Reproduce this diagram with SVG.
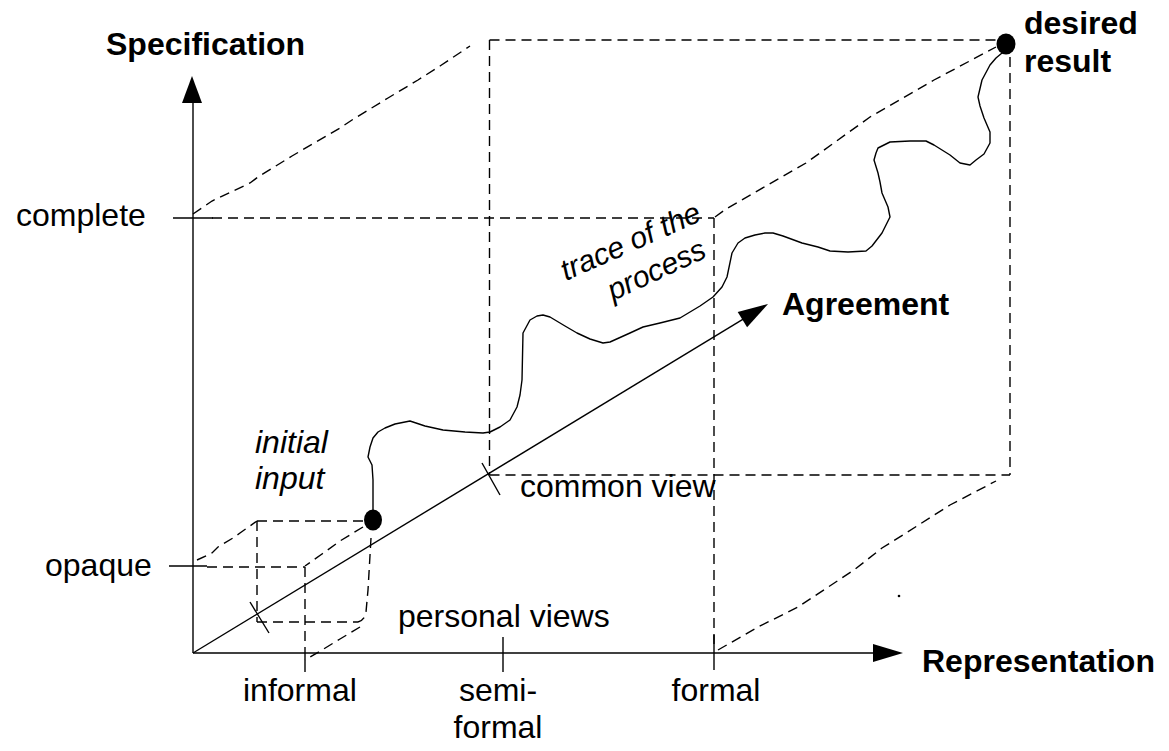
<svg xmlns="http://www.w3.org/2000/svg" width="1169" height="751" viewBox="0 0 1169 751">
<style>
.ax{stroke:#000;stroke-width:1.4;fill:none}
.d{stroke:#000;stroke-width:1.4;fill:none;stroke-dasharray:10 6}
.tr{stroke:#000;stroke-width:1.4;fill:none;stroke-linejoin:round;stroke-linecap:round}
text{font-family:"Liberation Sans",Arial,sans-serif;font-size:32px;fill:#000}
.b{font-weight:bold}
.i{font-style:italic}
</style>
<rect width="1169" height="751" fill="#fff"/>
<g id="cube-lines">
<polyline class="d" points="193,214 212,201 250,183 258,177 292,156 340,128 352,120 388,98 418,80 440,66 470,46"/>
<line class="d" x1="212" y1="218" x2="714" y2="218"/>
<line class="d" x1="489.5" y1="40" x2="1000" y2="40"/>
<line class="d" x1="489.5" y1="40" x2="489.5" y2="475"/>
<line class="d" x1="489.5" y1="475" x2="1010" y2="475"/>
<line class="d" x1="1010" y1="57" x2="1010" y2="475"/>
<line class="d" x1="714" y1="218" x2="714" y2="650"/>
<polyline class="d" points="715,217 726,209 806,163 870,117 934,80 996,47"/>
<polyline class="d" points="718,650 758,627 798,607 854,570 882,548 906,533 950,505 996,481"/>
<polyline class="d" points="197,560 212,553 218,547 233,538 240,533 257,521"/>
<line class="d" x1="207" y1="567" x2="305" y2="567"/>
<line class="d" x1="257" y1="521" x2="364" y2="521"/>
<line class="d" x1="257" y1="521" x2="257" y2="622"/>
<line class="d" x1="305" y1="567" x2="305" y2="647"/>
<line class="d" x1="257" y1="622" x2="358" y2="622"/>
<path class="d" d="M371,538 L368,590 L366,612 Q365,620 358,622"/>
<polyline class="d" points="363,527 340,541 322,554 305,566"/>
<polyline class="d" points="360,627 340,639 322,650 305,660"/>
</g>
<g id="axes">
<line class="ax" x1="193" y1="653" x2="193" y2="100"/>
<polygon points="192,76 182,103 202,103" fill="#000"/>
<line class="ax" x1="193" y1="653" x2="876" y2="653"/>
<polygon points="903,653 873,644 873,662" fill="#000"/>
<line class="ax" x1="193" y1="653" x2="744" y2="318.6"/>
<polygon points="768,304 747.1,327.3 737.7,311.9" fill="#000"/>
<line class="ax" x1="173" y1="218" x2="213" y2="218"/>
<line class="ax" x1="169" y1="566" x2="207" y2="566"/>
<line class="ax" x1="305" y1="647" x2="305" y2="672"/>
<line class="ax" x1="503" y1="637" x2="503" y2="672"/>
<line class="ax" x1="714" y1="635" x2="714" y2="670"/>
<line class="ax" x1="250" y1="602" x2="269" y2="633"/>
<line class="ax" x1="482" y1="463" x2="500" y2="495"/>
</g>
<g id="trace">
<polyline class="tr" points="373,510 373,480 372,465 368,457 370,447 373,438 378,432 385,428 395,424 410,421 425,426 443,430 465,432 483,433 490,432 500,427 510,420 517,407 520,395 522,380 523,333 530,320 537,316 543,315 550,317 565,326 577,333 590,339 603,343 610,342 630,333 643,327 660,323 680,318 700,306 713,297 722,287 727,277 732,253 738,243 745,238 755,235 765,233 773,233 783,236 802,243 818,247 830,251 848,252 866,251 872,246 882,233 890,217 888,207 882,193 880,182 878,173 874,160 876,153 878,148 890,142 910,141 926,141 934,145 950,155 960,163 970,165 976,160 984,154 990,143 990,132 984,118 980,106 978,97 982,80 990,65 996,58 1002,53"/>
</g>
<g id="initial-input">
<ellipse cx="373" cy="520" rx="9" ry="10.5" fill="#000"/>
<text class="i" x="255" y="453">initial</text>
<text class="i" x="255" y="489">input</text>
</g>
<g id="desired-result">
<ellipse cx="1006" cy="44" rx="9.5" ry="10.5" fill="#000"/>
<text class="b" x="1024" y="34">desired</text>
<text class="b" x="1024" y="72">result</text>
</g>
<g id="labels">
<text class="b" x="106" y="55">Specification</text>
<text class="b" x="922" y="672">Representation</text>
<text class="b" x="782" y="315">Agreement</text>
<text x="16" y="226">complete</text>
<text x="45" y="576">opaque</text>
<text x="243" y="701">informal</text>
<text x="498" y="701" text-anchor="middle">semi-</text>
<text x="498" y="738" text-anchor="middle">formal</text>
<text x="716" y="701" text-anchor="middle">formal</text>
<text x="398" y="627">personal views</text>
<text x="520" y="497">common view</text>
<text class="i" style="font-size:30px" transform="translate(566,281) rotate(-24)">trace of the</text>
<text class="i" style="font-size:30px" transform="translate(613,301) rotate(-25)">process</text>
<circle cx="899" cy="596" r="1.3" fill="#000"/>
</g>
</svg>
